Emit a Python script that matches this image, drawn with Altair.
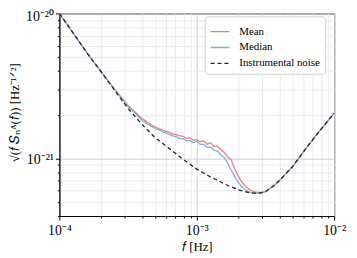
import altair as alt
import pandas as pd

series_names = ["Mean", "Median", "Instrumental noise"]

noise_f = [1.0e-4, 1.26e-4, 1.58e-4, 2.0e-4, 2.51e-4, 3.16e-4, 3.98e-4, 5.01e-4, 6.31e-4,
           7.94e-4, 1.0e-3, 1.12e-3, 1.26e-3, 1.41e-3, 1.58e-3, 1.78e-3, 2.0e-3, 2.24e-3,
           2.51e-3, 2.82e-3, 3.16e-3, 3.55e-3, 3.98e-3, 5.01e-3, 6.31e-3, 7.94e-3, 1.0e-2]
noise_v = [1.00e-20, 7.32e-21, 5.37e-21, 3.99e-21, 2.97e-21, 2.21e-21, 1.72e-21, 1.38e-21, 1.17e-21,
           9.85e-22, 8.43e-22, 7.92e-22, 7.44e-22, 7.10e-22, 6.67e-22, 6.37e-22, 6.08e-22, 5.89e-22,
           5.75e-22, 5.75e-22, 5.89e-22, 6.37e-22, 7.00e-22, 8.83e-22, 1.19e-21, 1.57e-21, 2.05e-21]

mean_f = [1.0e-4, 1.26e-4, 1.58e-4, 2.0e-4, 2.51e-4, 3.16e-4, 3.98e-4, 4.47e-4,
          5.01e-4, 5.31e-4, 5.62e-4, 5.96e-4, 6.31e-4, 6.68e-4, 7.08e-4, 7.50e-4, 7.94e-4,
          8.41e-4, 8.91e-4, 9.44e-4, 1.0e-3, 1.059e-3, 1.122e-3, 1.189e-3, 1.259e-3, 1.334e-3,
          1.413e-3, 1.496e-3, 1.585e-3, 1.679e-3, 1.778e-3, 1.884e-3, 1.995e-3, 2.113e-3,
          2.239e-3, 2.371e-3, 2.512e-3, 2.661e-3, 2.818e-3, 2.985e-3, 3.162e-3,
          3.55e-3, 3.98e-3, 5.01e-3, 6.31e-3, 7.94e-3, 1.0e-2]
mean_v = [1.00e-20, 7.32e-21, 5.37e-21, 3.99e-21, 3.01e-21, 2.32e-21, 1.89e-21, 1.75e-21,
          1.64e-21, 1.60e-21, 1.58e-21, 1.53e-21, 1.51e-21, 1.47e-21, 1.46e-21, 1.43e-21, 1.42e-21,
          1.37e-21, 1.39e-21, 1.33e-21, 1.35e-21, 1.30e-21, 1.32e-21, 1.25e-21, 1.28e-21, 1.21e-21,
          1.21e-21, 1.15e-21, 1.10e-21, 1.02e-21, 9.8e-22, 8.5e-22, 7.6e-22, 6.9e-22,
          6.47e-22, 6.18e-22, 5.98e-22, 5.86e-22, 5.82e-22, 5.84e-22, 5.89e-22,
          6.37e-22, 7.00e-22, 8.83e-22, 1.19e-21, 1.57e-21, 2.05e-21]

median_f = [1.0e-4, 1.26e-4, 1.58e-4, 2.0e-4, 2.51e-4, 3.16e-4, 3.98e-4, 4.47e-4,
            5.01e-4, 5.31e-4, 5.62e-4, 5.96e-4, 6.31e-4, 6.68e-4, 7.08e-4, 7.50e-4, 7.94e-4,
            8.41e-4, 8.91e-4, 9.44e-4, 1.0e-3, 1.059e-3, 1.122e-3, 1.189e-3, 1.259e-3, 1.334e-3,
            1.413e-3, 1.496e-3, 1.585e-3, 1.679e-3, 1.778e-3, 1.884e-3, 1.995e-3, 2.113e-3,
            2.239e-3, 2.371e-3, 2.512e-3, 2.661e-3, 2.818e-3, 2.985e-3, 3.162e-3,
            3.55e-3, 3.98e-3, 5.01e-3, 6.31e-3, 7.94e-3, 1.0e-2]
median_v = [1.00e-20, 7.32e-21, 5.37e-21, 3.99e-21, 3.00e-21, 2.28e-21, 1.84e-21, 1.71e-21,
            1.60e-21, 1.57e-21, 1.53e-21, 1.50e-21, 1.46e-21, 1.43e-21, 1.41e-21, 1.37e-21, 1.37e-21,
            1.32e-21, 1.33e-21, 1.28e-21, 1.31e-21, 1.25e-21, 1.25e-21, 1.19e-21, 1.20e-21, 1.14e-21,
            1.12e-21, 1.06e-21, 1.01e-21, 9.3e-22, 8.3e-22, 7.5e-22, 6.9e-22, 6.4e-22,
            6.1e-22, 5.9e-22, 5.8e-22, 5.75e-22, 5.75e-22, 5.78e-22, 5.89e-22,
            6.37e-22, 7.00e-22, 8.83e-22, 1.19e-21, 1.57e-21, 2.05e-21]

x_ticks = [1e-4, 2e-4, 3e-4, 4e-4, 5e-4, 6e-4, 7e-4, 8e-4, 9e-4,
           1e-3, 2e-3, 3e-3, 4e-3, 5e-3, 6e-3, 7e-3, 8e-3, 9e-3, 1e-2]
y_ticks = [4e-22, 5e-22, 6e-22, 7e-22, 8e-22, 9e-22,
           1e-21, 2e-21, 3e-21, 4e-21, 5e-21, 6e-21, 7e-21, 8e-21, 9e-21, 1e-20]

rows = []
for name, fs, vs in [("Mean", mean_f, mean_v), ("Median", median_f, median_v),
                     ("Instrumental noise", noise_f, noise_v)]:
    for f, v in zip(fs, vs):
        rows.append({"series": name, "f": f, "S": v})
df = pd.DataFrame(rows)

FONT = "Liberation Serif"
decade_test = "abs(log(datum.value)/LN10 - round(log(datum.value)/LN10)) < 0.001"

x_axis = alt.Axis(
    values=x_ticks,
    labelExpr="abs(datum.value-1e-4)<1e-8 ? '10⁻⁴' : (abs(datum.value-1e-3)<1e-7 ? '10⁻³' : (abs(datum.value-1e-2)<1e-6 ? '10⁻²' : ''))",
    title="𝑓 [Hz]",
    grid=True,
    gridColor={"condition": {"test": decade_test, "value": "#cfcfcf"}, "value": "#ececec"},
    tickSize={"condition": {"test": decade_test, "value": 4}, "value": 2},
    tickColor="black", domainColor="black",
    labelFont=FONT, labelFontSize=14, labelColor="black", labelPadding=4,
    titleFont=FONT, titleFontSize=13, titleFontWeight="normal", titleColor="black", titlePadding=3,
    labelFlush=False,
)
y_axis = alt.Axis(
    values=y_ticks,
    labelExpr="abs(datum.value-1e-20)<1e-24 ? '10⁻²⁰' : (abs(datum.value-1e-21)<1e-25 ? '10⁻²¹' : '')",
    title="√(𝑓 𝑆ₙᴬ(𝑓)) [Hz⁻¹ᐟ²]",
    grid=True,
    gridColor={"condition": {"test": decade_test, "value": "#cfcfcf"}, "value": "#ececec"},
    tickSize={"condition": {"test": decade_test, "value": 4}, "value": 2},
    labelOffset={"condition": {"test": "datum.value > 9e-21", "value": 3}, "value": 1},
    tickColor="black", domainColor="black",
    labelFont=FONT, labelFontSize=14, labelColor="black", labelPadding=2,
    titleFont=FONT, titleFontSize=13, titleFontWeight="normal", titleColor="black",
    titleX=-45, titleY=100, titleAlign="center", titleBaseline="middle", titleAngle=270,
    labelFlush=False,
)

legend_opts = dict(title=None, orient="none", legendX=147, legendY=3,
                   symbolType="stroke", symbolSize=361, symbolStrokeWidth=1.3,
                   labelFont=FONT, labelFontSize=11, labelColor="black",
                   rowPadding=-4, padding=5, strokeColor="#d0d0d0",
                   fillColor="white", cornerRadius=3, labelOffset=9)

color = alt.Color("series:N",
                  scale=alt.Scale(domain=series_names, range=["#e87f80", "#7eb0d6", "#222222"]),
                  legend=alt.Legend(**legend_opts))
dash = alt.StrokeDash("series:N",
                      scale=alt.Scale(domain=series_names, range=[[1, 0], [1, 0], [4, 3]]),
                      legend=alt.Legend(**legend_opts))

base = alt.Chart(df).mark_line(strokeWidth=1.3, clip=True).encode(
    x=alt.X("f:Q", scale=alt.Scale(type="log", domain=[1e-4, 1e-2], nice=False), axis=x_axis),
    y=alt.Y("S:Q", scale=alt.Scale(type="log", domain=[4e-22, 1e-20], nice=False), axis=y_axis),
    color=color,
    strokeDash=dash,
    order=alt.Order("f:Q"),
)

layers = [base.transform_filter(alt.datum.series == s) for s in series_names]
chart = alt.layer(*layers).properties(
    width=278, height=205,
    autosize=alt.AutoSizeParams(type="none"),
    padding={"left": 52, "top": 4, "right": 15, "bottom": 41},
).configure_view(stroke="black", strokeWidth=1)

chart.save("out.html", embed_options={"renderer": "svg", "actions": False})
